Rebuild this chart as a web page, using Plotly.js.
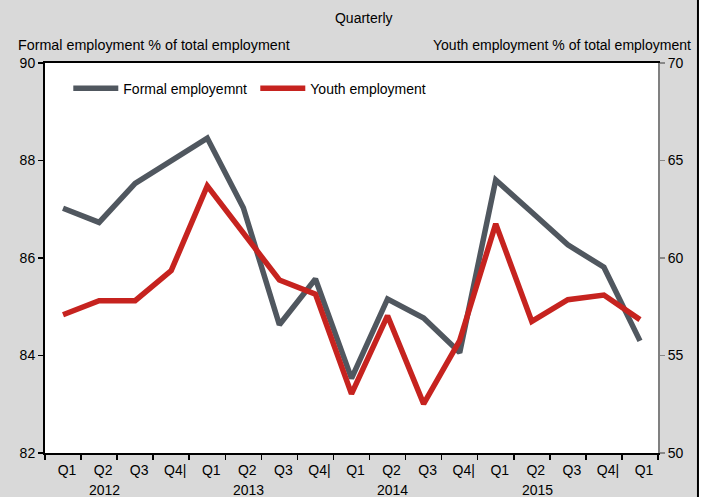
<!DOCTYPE html>
<html>
<head>
<meta charset="utf-8">
<script src="https://cdn.plot.ly/plotly-3.0.1.min.js"></script>
<style>
  html, body { margin: 0; padding: 0; background: #d9d9d9; }
  #chart { width: 706px; height: 497px; }
</style>
</head>
<body>
<div id="chart"></div>
<script>
const quarterLabels = ["Q1","Q2","Q3","Q4|","Q1","Q2","Q3","Q4|","Q1","Q2","Q3","Q4|","Q1","Q2","Q3","Q4|","Q1"];
const yearLabels = ["2012","2013","2014","2015"];
const formalEmployment = [87.02, 86.73, 87.53, 88.00, 88.46, 87.03, 84.63, 85.57, 83.53, 85.16, 84.77, 84.06, 87.60, 86.94, 86.27, 85.81, 84.30];
const youthEmployment = [57.09, 57.81, 57.81, 59.35, 63.70, 61.29, 58.87, 58.15, 53.03, 57.04, 52.52, 55.76, 61.75, 56.75, 57.86, 58.10, 56.84];

const idx = quarterLabels.map((_, i) => i);
const boundaries = quarterLabels.map((_, i) => i - 0.5).concat([quarterLabels.length - 0.5]);
const FONT = '"Liberation Sans Narrow", "Liberation Sans", Arial, sans-serif';

const traces = [
  { x: idx, y: formalEmployment, name: "Formal employemnt", type: "scatter", mode: "lines",
    line: { color: "#50575f", width: 5.5 }, yaxis: "y" },
  { x: idx, y: youthEmployment, name: "Youth employment", type: "scatter", mode: "lines",
    line: { color: "#c6231f", width: 5.5 }, yaxis: "y2" }
];

const yearAnn = yearLabels.map((yr, k) => ({
  text: yr, x: 4 * k + 1.15, xref: "x", y: -0.094, yref: "paper",
  showarrow: false, font: { family: FONT, size: 14, color: "#000" }, yanchor: "middle"
}));

const layout = {
  width: 706, height: 497,
  paper_bgcolor: "#d9d9d9", plot_bgcolor: "#ffffff",
  margin: { l: 45, r: 48, t: 63, b: 44, pad: 0 },
  font: { family: FONT, size: 13, color: "#000" },
  title: { text: "Quarterly", x: 0.52, xref: "paper", xanchor: "center", y: 0.964, yanchor: "middle",
           font: { family: FONT, size: 14, color: "#000" } },
  showlegend: true,
  legend: { orientation: "h", x: 0.038, y: 0.975, xanchor: "left", yanchor: "top",
            bgcolor: "rgba(0,0,0,0)", itemwidth: 45, entrywidth: 127, entrywidthmode: "pixels",
            font: { family: FONT, size: 14 }, tracegroupgap: 0 },
  xaxis: {
    type: "linear", range: [-0.5, quarterLabels.length - 0.5],
    tickmode: "array", tickvals: idx, ticktext: quarterLabels,
    ticks: "outside", ticklen: 3, tickcolor: "rgba(0,0,0,0)", ticklabelshift: 4,
    minor: { tickmode: "array", tickvals: boundaries, ticks: "outside", ticklen: 5, tickcolor: "#000", tickwidth: 1.5, showgrid: false },
    showgrid: false, zeroline: false,
    showline: true, linecolor: "#000", linewidth: 2, mirror: true,
    tickfont: { family: FONT, size: 14 }
  },
  yaxis: {
    range: [82, 90], tickvals: [82, 84, 86, 88, 90], ticks: "outside", ticklen: 5,
    tickcolor: "#000", tickwidth: 1.5,
    showgrid: false, zeroline: false, showline: true, linecolor: "#000", linewidth: 2,
    tickfont: { family: FONT, size: 14 }
  },
  yaxis2: {
    range: [50, 70], tickvals: [50, 55, 60, 65, 70], overlaying: "y", side: "right",
    ticks: "outside", ticklen: 5, tickcolor: "#888", tickwidth: 1.5,
    showgrid: false, zeroline: false, showline: true, linecolor: "#808080", linewidth: 2,
    tickfont: { family: FONT, size: 14 }
  },
  annotations: [
    { text: "Formal employment % of total employment", xref: "paper", yref: "paper",
      x: -0.047, y: 1.046, xanchor: "left", yanchor: "middle", showarrow: false,
      font: { family: FONT, size: 14.3 } },
    { text: "Youth employment % of total employment", xref: "paper", yref: "paper",
      x: 1.057, y: 1.046, xanchor: "right", yanchor: "middle", showarrow: false,
      font: { family: FONT, size: 14 } }
  ].concat(yearAnn),
  shapes: [
    { type: "rect", xref: "paper", yref: "paper", x0: 1.0652, x1: 1.1, y0: -0.2, y1: 1.2,
      fillcolor: "#ffffff", line: { width: 0 }, layer: "above" },
    { type: "line", xref: "paper", yref: "paper", x0: 1.0652, x1: 1.0652, y0: -0.2, y1: 1.2,
      line: { color: "#000", width: 2 } }
  ]
};

Plotly.newPlot("chart", traces, layout, { displayModeBar: false, staticPlot: true });
</script>
</body>
</html>
